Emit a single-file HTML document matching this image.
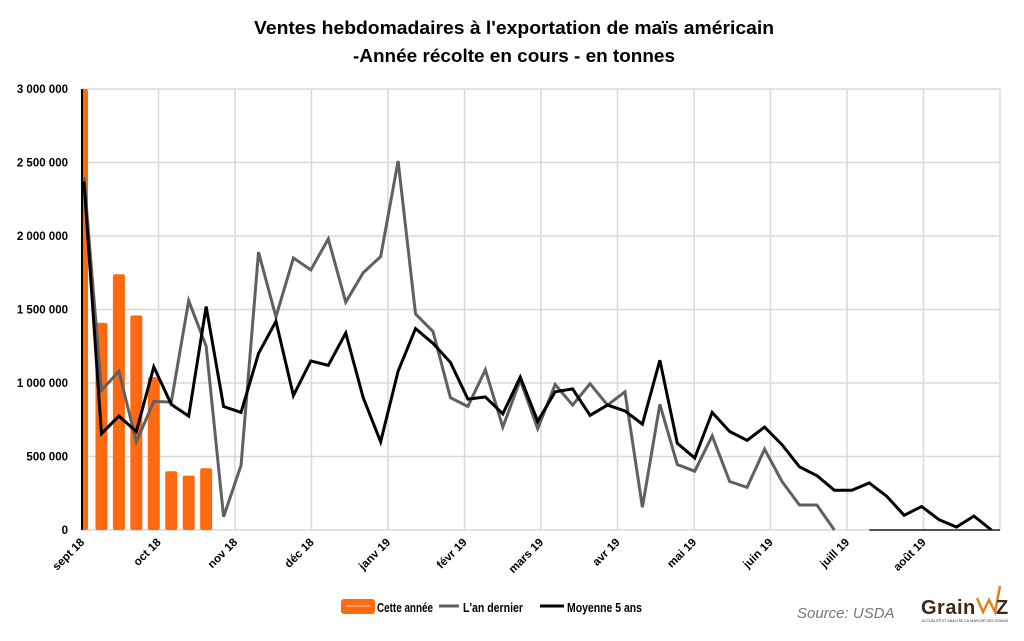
<!DOCTYPE html>
<html><head><meta charset="utf-8"><style>
body{margin:0;background:#fff;}
svg{display:block;font-family:"Liberation Sans",sans-serif;}
</style></head><body>
<svg id="c" width="1024" height="641" viewBox="0 0 1024 641">
<text x="514" y="34" text-anchor="middle" font-size="18" font-weight="bold" textLength="520" lengthAdjust="spacingAndGlyphs">Ventes hebdomadaires à l'exportation de maïs américain</text>
<text x="514" y="62" text-anchor="middle" font-size="18" font-weight="bold" textLength="322" lengthAdjust="spacingAndGlyphs">-Année récolte en cours - en tonnes</text>
<g id="grid"></g><g id="bars"></g><g id="lines"></g><g id="axes"></g>
<g>
<rect x="341" y="599" width="34" height="15" rx="3" fill="#ff6a10"/>
<line x1="346" y1="606" x2="370" y2="606" stroke="#f4a070" stroke-width="2"/>
<text x="377" y="612" font-size="13" font-weight="bold" textLength="56" lengthAdjust="spacingAndGlyphs">Cette année</text>
<line x1="439" y1="606" x2="459" y2="606" stroke="#606060" stroke-width="3"/>
<text x="463" y="612" font-size="13" font-weight="bold" textLength="60" lengthAdjust="spacingAndGlyphs">L'an dernier</text>
<line x1="540" y1="606" x2="564" y2="606" stroke="#000" stroke-width="3"/>
<text x="567" y="612" font-size="13" font-weight="bold" textLength="75" lengthAdjust="spacingAndGlyphs">Moyenne 5 ans</text>
</g>
<text x="797" y="618" font-size="15" font-style="italic" fill="#777">Source: USDA</text>
<g>
<text x="921" y="614" font-size="20" font-weight="bold" fill="#3a2a1a" letter-spacing="0.5">Grain</text>
<polyline points="977,598 983,612 989,600 995,612 1000,586" fill="none" stroke="#e8801a" stroke-width="2.5"/>
<text x="996" y="614" font-size="20" font-weight="bold" fill="#3a2a1a">Z</text>
<text x="922" y="622" font-size="3.5" fill="#333">ACTUALITÉ ET ANALYSE DU MARCHÉ DES GRAINS</text>
</g>
</svg>
<script>
const yTicks=[0,500000,1000000,1500000,2000000,2500000,3000000];
const yTickLabels=["0","500 000","1 000 000","1 500 000","2 000 000","2 500 000","3 000 000"];
const months=["sept 18","oct 18","nov 18","déc 18","janv 19","févr 19","mars 19","avr 19","mai 19","juin 19","juill 19","août 19"];
const cetteAnnee=[3100000,1410000,1740000,1460000,1040000,400000,370000,420000];
const anDernier=[2400000,950000,1080000,600000,875000,870000,1560000,1250000,90000,440000,1890000,1450000,1850000,1770000,1980000,1550000,1750000,1860000,2510000,1470000,1350000,900000,840000,1090000,700000,1020000,690000,990000,850000,995000,850000,940000,155000,855000,445000,400000,640000,330000,290000,550000,330000,170000,170000,0];
const moyenne=[2370000,655000,775000,670000,1110000,855000,775000,1520000,840000,800000,1200000,1420000,915000,1150000,1120000,1340000,900000,600000,1080000,1370000,1270000,1140000,890000,905000,790000,1040000,740000,940000,960000,780000,850000,810000,720000,1155000,590000,490000,800000,670000,610000,700000,580000,430000,370000,270000,270000,320000,230000,100000,160000,70000,20000,95000,0];
const flatStart=45, flatEnd=52, flatVal=0;
const NS="http://www.w3.org/2000/svg";
const X0=82,X1=1000,Y0=530,Y1=89,YMAX=3000000,WK=17.45,MW=(X1-X0)/12;
const y=v=>Y0-(Math.min(v,YMAX)/YMAX)*(Y0-Y1);
const xw=i=>84+i*WK;
const xm=i=>X0+i*MW;
function mk(t,a,p){const e=document.createElementNS(NS,t);for(const k in a)e.setAttribute(k,a[k]);p.appendChild(e);return e;}
const grid=document.getElementById('grid'),axes=document.getElementById('axes'),bars=document.getElementById('bars'),lines=document.getElementById('lines');
yTicks.forEach((v,i)=>{
 const l=mk('line',{x1:X0,x2:X1,y1:y(v),y2:y(v),stroke:'#d9d9d9','stroke-width':1.5},grid);
 
 
 const t=mk('text',{x:68,y:y(v)+4,'text-anchor':'end','font-size':11.5,'font-weight':'bold'},axes);
 t.textContent=yTickLabels[i];
 
 
});
for(let i=0;i<=12;i++){
 const l=mk('line',{x1:xm(i),x2:xm(i),y1:Y1,y2:Y0,stroke:'#d9d9d9','stroke-width':1.5},grid);
 
 
}
months.forEach((m,i)=>{
 const t=mk('text',{x:xm(i)+3,y:543,'text-anchor':'end','font-size':11.5,'font-weight':'bold',transform:`rotate(-45 ${xm(i)+3} 543)`},axes);
 t.textContent=m;
 
 
});
cetteAnnee.forEach((v,i)=>{
 const h=Y0-y(v);
 const r=mk('rect',{x:i==0?X0:xw(i)-6,y:y(v),width:i==0?6:12,height:h,rx:2,fill:'#ff6a10'},bars);
 
 
});
function poly(arr,off,col,name){
 const p=mk('polyline',{points:arr.map((v,i)=>xw(i+off)+','+y(v)).join(' '),fill:'none',stroke:col,'stroke-width':3,'stroke-linejoin':'miter'},lines);
 
 
}
poly(anDernier,0,'#606060','line-an-dernier');
poly(moyenne,0,'#000','line-moyenne-5-ans');
const f=mk('line',{x1:xw(flatStart),x2:X1,y1:y(flatVal),y2:y(flatVal),stroke:'#222','stroke-width':1.5},lines);


const ax=mk('line',{x1:X0,x2:X0,y1:Y1,y2:Y0,stroke:'#000','stroke-width':2},axes);


</script>
</body></html>
